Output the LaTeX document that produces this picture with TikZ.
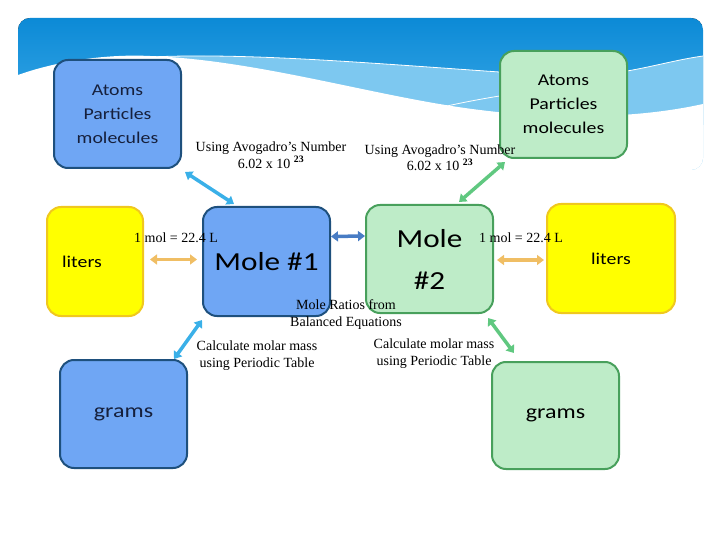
\documentclass[tikz,border=0pt]{standalone}
\usepackage{fontspec}
\setmainfont{Liberation Serif}
\newfontfamily\boxfont[FakeStretch=1.2]{Carlito}
\usetikzlibrary{arrows.meta,calc}
\definecolor{skytop}{RGB}{12,138,214}
\definecolor{skybot}{RGB}{60,170,232}
\definecolor{skylight}{RGB}{125,200,240}
\definecolor{bluefill}{RGB}{111,166,244}
\definecolor{blueline}{RGB}{30,80,125}
\definecolor{greenfill}{RGB}{190,236,200}
\definecolor{greenline}{RGB}{72,160,92}
\definecolor{yellowfill}{RGB}{255,255,0}
\definecolor{yellowline}{RGB}{240,200,30}
\definecolor{navytext}{RGB}{22,32,60}
\definecolor{arrlightblue}{RGB}{58,176,232}
\definecolor{arrdarkblue}{RGB}{72,124,196}
\definecolor{arrgreen}{RGB}{96,200,128}
\definecolor{arrorange}{RGB}{240,190,100}
\tikzset{
  card/.style={rectangle, rounded corners=14pt, line width=2pt, minimum width=127pt, minimum height=108pt, inner sep=0pt, align=center, font=\boxfont},
  bluecard/.style={card, fill=bluefill, draw=blueline, text=navytext},
  greencard/.style={card, fill=greenfill, draw=greenline, text=black},
  yellowcard/.style={card, fill=yellowfill, draw=yellowline, text=black},
  dbl/.style={line width=3.5pt, {Triangle[length=7pt,width=10pt]}-{Triangle[length=7pt,width=10pt]}},
  lbl/.style={font=\fontsize{14}{16.5}\selectfont, align=center, inner sep=0pt},
}
\begin{document}
\begin{tikzpicture}[x=1pt,y=-1pt]
\useasboundingbox (0,0) rectangle (720,540);
% header band
\begin{scope}
\clip[rounded corners=12pt] (18,18) rectangle (703,170);
\fill[top color=skytop, bottom color=skybot] (18,18) rectangle (703,125);
\fill[skylight] (140,57) .. controls (260,52) and (400,66) .. (560,76) .. controls (620,78) and (660,62) .. (703,56) -- (703,170) -- (140,170) -- cycle;
\fill[white] (18,75) .. controls (60,60) and (110,54) .. (150,56) .. controls (260,60) and (380,98) .. (480,110) .. controls (560,120) and (640,118) .. (703,104) -- (703,170) -- (18,170) -- cycle;
\draw[white, line width=0.8pt] (150,57) .. controls (260,52) and (400,66) .. (560,76) .. controls (620,78) and (660,62) .. (703,56);
\draw[white, line width=0.8pt] (430,110) .. controls (470,100) and (520,92) .. (560,88);
\end{scope}
% boxes
\node[bluecard, font=\boxfont\fontsize{16.5}{24}\selectfont] (atomsL) at (117.5,114) {Atoms\\Particles\\molecules};
\node[greencard, minimum height=107pt, font=\boxfont\fontsize{16.5}{24}\selectfont] (atomsR) at (563.5,104.5) {Atoms\\Particles\\molecules};
\node[yellowcard, minimum width=96pt, minimum height=109pt] (litersL) at (95,261.5) {};
\node[font=\boxfont\fontsize{16.5}{20}\selectfont] (litersLtext) at (82,262) {liters};
\node[yellowcard, minimum width=128pt, minimum height=109pt, font=\boxfont\fontsize{16.5}{20}\selectfont] (litersR) at (611,258.5) {liters};
\node[bluecard, minimum height=109pt, text=black, font=\boxfont\fontsize{26}{30}\selectfont] (mole1) at (266.5,261.5) {Mole \#1};
\node[greencard, font=\boxfont\fontsize{26}{42}\selectfont] (mole2) at (429.5,259) {Mole\\\#2};
\node[bluecard, font=\boxfont\fontsize{20}{24}\selectfont] (gramsL) at (123.5,414) {grams};
\node[greencard, minimum height=107pt, font=\boxfont\fontsize{20}{24}\selectfont] (gramsR) at (555.5,415.5) {grams};
% connectors
\draw[dbl, arrlightblue] ([shift={(3,3)}]atomsL.south east) -- ([shift={(32,-2)}]mole1.north west);
\draw[dbl, arrdarkblue] ([shift={(0,-25)}]mole1.east) -- ([shift={(0,-23)}]mole2.west);
\draw[dbl, arrgreen] ([shift={(6,3)}]atomsR.south west) -- ([shift={(-35,-2)}]mole2.north east);
\draw[dbl, arrorange] ([shift={(6,-2)}]litersL.east) -- ([shift={(-5,-2)}]mole1.west);
\draw[dbl, arrorange] ([shift={(3,1)}]mole2.east) -- ([shift={(-2,1.5)}]litersR.west);
\draw[dbl, arrlightblue] ([shift={(0,3)}]mole1.south west) -- ([shift={(-14,0)}]gramsL.north east);
\draw[dbl, arrgreen] ([shift={(-6,4)}]mole2.south east) -- ([shift={(23,-8)}]gramsR.north west);
% labels
\node[lbl] (avoL) at (271,155) {Using Avogadro’s Number\\6.02 x 10 \textsuperscript{\bfseries 23}};
\node[lbl] (avoR) at (440,157.5) {Using Avogadro’s Number\\6.02 x 10 \textsuperscript{\bfseries 23}};
\node[lbl] (molL) at (176,238) {1 mol = 22.4 L};
\node[lbl] (molR) at (521,238) {1 mol = 22.4 L};
\node[lbl] (ratio) at (346,314.5) {Mole Ratios from\\Balanced Equations};
\node[lbl] (calcL) at (257,355.5) {Calculate molar mass\\using Periodic Table};
\node[lbl] (calcR) at (434,353.5) {Calculate molar mass\\using Periodic Table};
\end{tikzpicture}
\end{document}
